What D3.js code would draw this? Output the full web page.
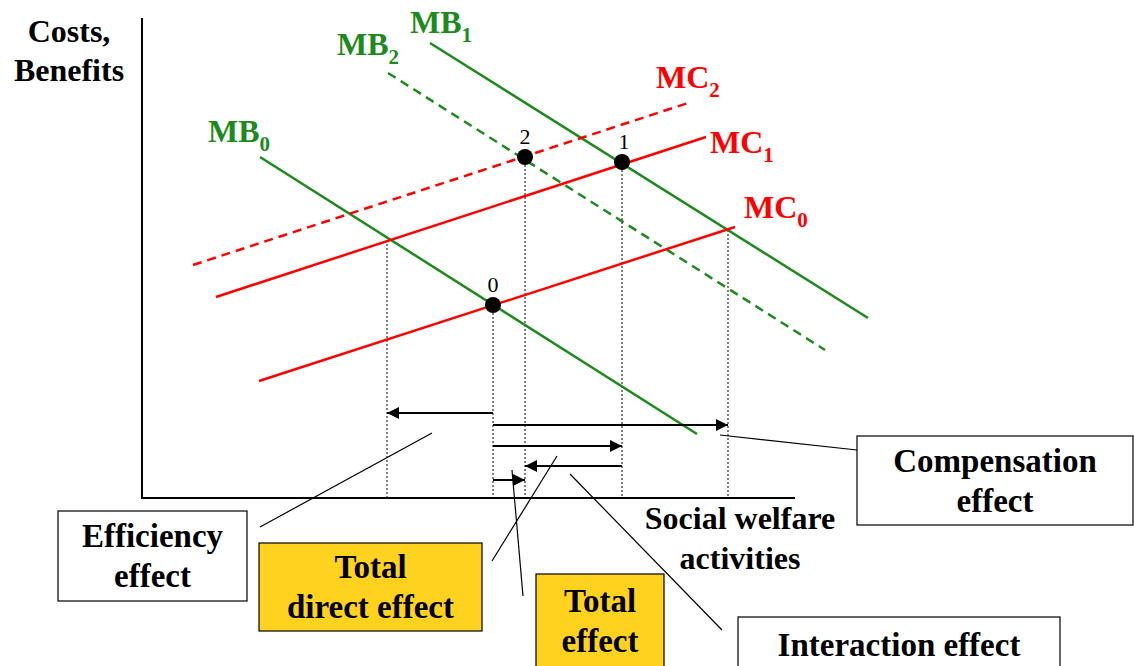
<!DOCTYPE html>
<html><head><meta charset="utf-8">
<script src="https://d3js.org/d3.v7.min.js"></script>
<style>body{margin:0;background:#fff}text{font-family:"Liberation Serif",serif;font-weight:bold}</style>
</head><body>
<svg width="1134" height="666"></svg>
<script>
// diagram units: x 0..653, y 0..480 (origin at axes corner)
var curves = [
  {name:"MB", sub:"1", color:"#1e8a1e", dash:false, p:[[288,455],[726,180]], lab:[268,465]},
  {name:"MB", sub:"2", color:"#1e8a1e", dash:true,  p:[[246,425],[683,148]], lab:[195,443]},
  {name:"MB", sub:"0", color:"#1e8a1e", dash:false, p:[[118,341],[555,64]],  lab:[66,356]},
  {name:"MC", sub:"2", color:"#ff0000", dash:true,  p:[[51,233],[546,395]],  lab:[514,410]},
  {name:"MC", sub:"1", color:"#ff0000", dash:false, p:[[74,201],[564,361]],  lab:[568,345]},
  {name:"MC", sub:"0", color:"#ff0000", dash:false, p:[[117,117],[593,271]], lab:[602,280]}
];
var points = [{id:"0",x:351,y:193},{id:"2",x:383,y:341},{id:"1",x:480,y:336}];
var guides = [[245,258],[351,193],[383,341],[480,336],[586,268]];
var arrows = [[351,245,85],[351,586,73],[351,480,52],[480,383,32],[351,383,18]];
var boxes = [
  {lines:["Compensation","effect"], x0:715,y0:62,x1:991,y1:-27, fill:"#fff", lead:[[578,63],[715,48]]},
  {lines:["Efficiency","effect"], x0:-84,y0:-13,x1:105,y1:-103, fill:"#fff", lead:[[118,-29],[290,65]]},
  {lines:["Total","direct effect"], x0:117,y0:-45,x1:340,y1:-133, fill:"#ffd21f", lead:[[350,-63],[415,42]]},
  {lines:["Total","effect"], x0:394,y0:-76,x1:522,y1:-170, fill:"#ffd21f", lead:[[381,-98],[370,28]]},
  {lines:["Interaction effect"], x0:596,y0:-119,x1:918,y1:-175, fill:"#fff", lead:[[580,-132],[428,24]]}
];

var svg = d3.select("svg");
var x = d3.scaleLinear().domain([0,653]).range([142,795]);
var y = d3.scaleLinear().domain([0,480]).range([498,18]);
var defs = svg.append("defs");
defs.append("marker").attr("id","ar").attr("viewBox","0 0 10 10").attr("refX",10).attr("refY",5)
  .attr("markerWidth",7).attr("markerHeight",6).attr("orient","auto")
  .append("path").attr("d","M0,0L10,5L0,10z").attr("fill","#000");

// axes
svg.append("path").attr("d","M"+x(0)+","+y(480)+"V"+y(0)+"H"+x(653)).attr("fill","none").attr("stroke","#000").attr("stroke-width",2);

// dotted guides
guides.forEach(function(g){
  svg.append("line").attr("x1",x(g[0])).attr("x2",x(g[0])).attr("y1",y(g[1])).attr("y2",y(0))
    .attr("stroke","#000").attr("stroke-width",1).attr("stroke-dasharray","2,2");
});

// curves
curves.forEach(function(c){
  svg.append("line").attr("x1",x(c.p[0][0])).attr("y1",y(c.p[0][1])).attr("x2",x(c.p[1][0])).attr("y2",y(c.p[1][1]))
    .attr("stroke",c.color).attr("stroke-width",2.5).attr("stroke-dasharray",c.dash?"9,6":null);
  var t = svg.append("text").attr("x",x(c.lab[0])).attr("y",y(c.lab[1])).attr("fill",c.color).attr("font-size",32).text(c.name);
  t.append("tspan").attr("font-size",21).attr("dy",9).text(c.sub);
});

// points
points.forEach(function(p){
  svg.append("circle").attr("cx",x(p.x)).attr("cy",y(p.y)).attr("r",8).attr("fill","#000");
  svg.append("text").attr("x",x(p.x)+(p.id=="1"?2:0)).attr("y",y(p.y)-13).attr("text-anchor","middle")
    .attr("font-size",22).style("font-weight","normal").text(p.id);
});

// arrows
arrows.forEach(function(a){
  svg.append("line").attr("x1",x(a[0])).attr("x2",x(a[1])).attr("y1",y(a[2])).attr("y2",y(a[2]))
    .attr("stroke","#000").attr("stroke-width",2).attr("marker-end","url(#ar)");
});

// boxes
boxes.forEach(function(b){
  svg.append("line").attr("x1",x(b.lead[0][0])).attr("y1",y(b.lead[0][1])).attr("x2",x(b.lead[1][0])).attr("y2",y(b.lead[1][1]))
    .attr("stroke","#000").attr("stroke-width",1.2);
  var X0=x(b.x0),X1=x(b.x1),Y0=y(b.y0),Y1=y(b.y1);
  svg.append("rect").attr("x",X0).attr("y",Y0).attr("width",X1-X0).attr("height",Y1-Y0)
    .attr("fill",b.fill).attr("stroke","#000").attr("stroke-width",1.2);
  var cy=(Y0+Y1)/2, n=b.lines.length;
  b.lines.forEach(function(l,i){
    svg.append("text").attr("x",(X0+X1)/2).attr("y",cy+(i-(n-1)/2)*40+11).attr("text-anchor","middle")
      .attr("font-size",33).text(l);
  });
});

// axis titles
svg.append("text").attr("x",69).attr("y",42).attr("text-anchor","middle").attr("font-size",32).text("Costs,");
svg.append("text").attr("x",69).attr("y",81).attr("text-anchor","middle").attr("font-size",32).text("Benefits");
svg.append("text").attr("x",740).attr("y",529).attr("text-anchor","middle").attr("font-size",32).text("Social welfare");
svg.append("text").attr("x",740).attr("y",569).attr("text-anchor","middle").attr("font-size",32).text("activities");
</script>
</body></html>
